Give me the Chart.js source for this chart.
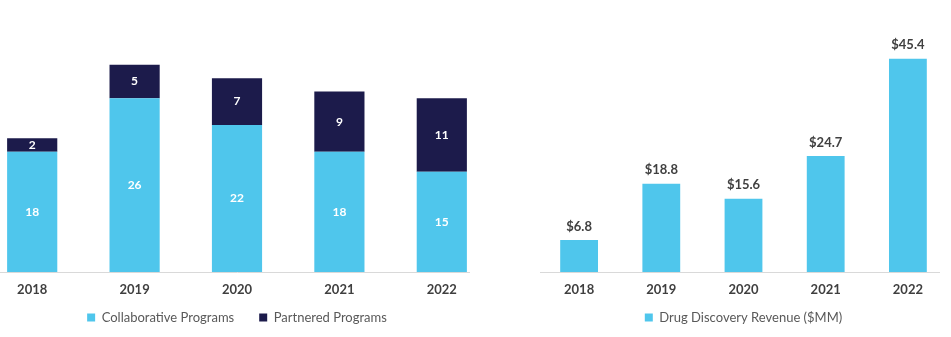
<!DOCTYPE html>
<html>
<head>
<meta charset="utf-8">
<script src="https://cdn.jsdelivr.net/npm/chart.js@4.4.1/dist/chart.umd.min.js"></script>
<style>
  html, body { margin: 0; padding: 0; background: #ffffff; }
  #page { position: relative; width: 951px; height: 337px; overflow: hidden; background: #ffffff; }
  .wrap { position: absolute; top: 0; height: 337px; overflow: hidden; }
  .wrap canvas { position: absolute; top: 0; }
  #wrapLeft { left: 0; width: 470px; }
  #wrapLeft canvas { left: -19px; }
  #wrapRight { left: 540px; width: 400px; }
  #wrapRight canvas { left: -2px; }
</style>
</head>
<body>
<div id="page">
  <div class="wrap" id="wrapLeft"><canvas id="programs" width="512" height="337"></canvas></div>
  <div class="wrap" id="wrapRight"><canvas id="revenue" width="411" height="337"></canvas></div>
</div>
<script>
// Fiscal years shown on both panels
const years = ['2018', '2019', '2020', '2021', '2022'];
// Program counts (stacked)
const collaborativePrograms = [18, 26, 22, 18, 15];
const partneredPrograms = [2, 5, 7, 9, 11];
// Drug discovery revenue, $MM
const drugDiscoveryRevenue = [6.8, 18.8, 15.6, 24.7, 45.4];

const LIGHT_BLUE = '#4FC6EC';
const NAVY = '#1C1B4B';
const FONT = 'Lato, "Open Sans", sans-serif';

// Writes each bar's value either centred inside its segment or just above the bar
const barLabels = {
  id: 'barLabels',
  afterDatasetsDraw(chart, args, opts) {
    const ctx = chart.ctx;
    chart.data.datasets.forEach((ds, i) => {
      const meta = chart.getDatasetMeta(i);
      if (meta.hidden) return;
      meta.data.forEach((bar, j) => {
        const v = ds.data[j];
        const text = opts.format ? opts.format(v) : String(v);
        ctx.save();
        ctx.font = 'bold ' + opts.size + 'px ' + FONT;
        ctx.textAlign = 'center';
        ctx.fillStyle = opts.color;
        if (opts.mode === 'inside') {
          ctx.textBaseline = 'middle';
          ctx.fillText(text, bar.x, (bar.y + bar.base) / 2);
        } else {
          ctx.textBaseline = 'bottom';
          ctx.fillText(text, bar.x, bar.y - opts.offset);
        }
        ctx.restore();
      });
    });
  }
};

// The x axis reserves only a short box so the legend sits close below it;
// after layout its box is extended again so the year labels are not clipped.
const axisBoxFix = {
  id: 'axisBoxFix',
  afterLayout(chart) {
    const s = chart.scales.x;
    s.bottom = s.top + 34;
    s.height = 34;
  }
};

function baseOptions(yMax, labelOpts) {
  return {
    responsive: false,
    animation: false,
    devicePixelRatio: 1,
    layout: { padding: { top: 0, left: 0, right: 0, bottom: 3 } },
    scales: {
      x: {
        stacked: true,
        offset: true,
        grid: { display: false, drawTicks: false, tickLength: 0 },
        border: { display: true, color: '#D9D9D9', width: 1 },
        ticks: { color: '#3F3F3F', font: { family: FONT, size: 13, weight: 'bold' }, padding: 10 },
        afterFit(scale) { scale.height = 14; }
      },
      y: {
        stacked: true,
        display: false,
        min: 0,
        max: yMax
      }
    },
    plugins: {
      tooltip: { enabled: false },
      legend: {
        position: 'bottom',
        labels: {
          boxWidth: 8,
          boxHeight: 8,
          padding: 25,
          color: '#595959',
          font: { family: FONT, size: 13 }
        }
      },
      barLabels: labelOpts
    }
  };
}

new Chart(document.getElementById('programs'), {
  type: 'bar',
  data: {
    labels: years,
    datasets: [
      { label: 'Collaborative Programs', data: collaborativePrograms, backgroundColor: LIGHT_BLUE,
        categoryPercentage: 1, barPercentage: 0.49 },
      { label: 'Partnered Programs', data: partneredPrograms, backgroundColor: NAVY,
        categoryPercentage: 1, barPercentage: 0.49 }
    ]
  },
  options: baseOptions(40.7, { mode: 'inside', color: '#FFFFFF', size: 12 }),
  plugins: [barLabels, axisBoxFix]
});

new Chart(document.getElementById('revenue'), {
  type: 'bar',
  data: {
    labels: years,
    datasets: [
      { label: 'Drug Discovery Revenue ($MM)', data: drugDiscoveryRevenue, backgroundColor: LIGHT_BLUE,
        categoryPercentage: 1, barPercentage: 0.46 }
    ]
  },
  options: baseOptions(57.9, { mode: 'top', color: '#404040', size: 13, offset: 7,
    format: v => '$' + v.toFixed(1) }),
  plugins: [barLabels, axisBoxFix]
});
</script>
</body>
</html>
